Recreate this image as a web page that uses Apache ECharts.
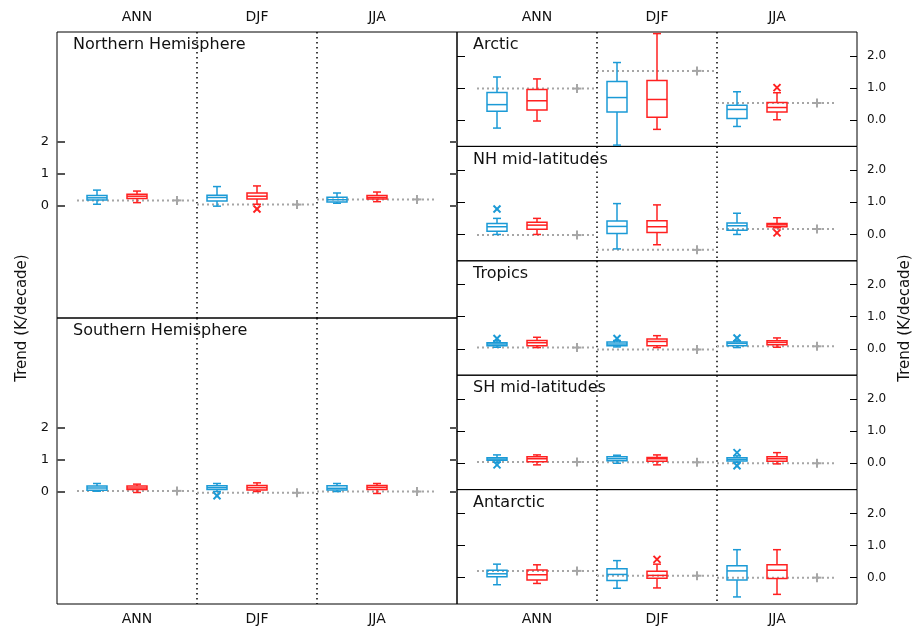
<!DOCTYPE html>
<html><head><meta charset="utf-8">
<script src="https://cdn.jsdelivr.net/npm/echarts@6/dist/echarts.min.js"></script>
<style>html,body{margin:0;padding:0;background:#fff}#c{width:920px;height:627px}</style>
</head><body><div id="c"></div>
<script>
// ---------------- DATA ----------------
const seasons = ['ANN', 'DJF', 'JJA'];
const regionNames = ['Northern Hemisphere', 'Southern Hemisphere', 'Arctic', 'NH mid-latitudes', 'Tropics', 'SH mid-latitudes', 'Antarctic'];
const leftTicks = [0, 1, 2];
const rightTicks = [0, 1, 2];
// box stats per season: [whisker low, Q1, median, Q3, whisker high]
const nhBlue = [[0.05, 0.18, 0.25, 0.32, 0.49], [-0.01, 0.15, 0.26, 0.33, 0.60], [0.08, 0.12, 0.19, 0.27, 0.40]];
const nhRed  = [[0.10, 0.23, 0.30, 0.36, 0.46], [0.05, 0.21, 0.30, 0.40, 0.62], [0.13, 0.21, 0.26, 0.32, 0.43]];
const nhObs  = [0.17, 0.04, 0.20];
const nhOutBlue = [];
const nhOutRed  = [[1, -0.10]];

const shBlue = [[0.02, 0.05, 0.12, 0.18, 0.26], [0.01, 0.07, 0.13, 0.19, 0.26], [0.01, 0.06, 0.11, 0.19, 0.26]];
const shRed  = [[-0.02, 0.07, 0.12, 0.18, 0.24], [0.01, 0.06, 0.13, 0.20, 0.28], [-0.05, 0.07, 0.14, 0.20, 0.26]];
const shObs  = [0.03, -0.03, 0.01];
const shOutBlue = [[1, -0.12]];
const shOutRed  = [];

const arBlue = [[-0.25, 0.27, 0.48, 0.86, 1.34], [-0.78, 0.25, 0.70, 1.20, 1.79], [-0.20, 0.05, 0.33, 0.46, 0.88]];
const arRed  = [[-0.03, 0.31, 0.60, 0.95, 1.28], [-0.29, 0.09, 0.64, 1.23, 2.69], [0.01, 0.25, 0.39, 0.55, 0.85]];
const arObs  = [0.98, 1.53, 0.53];
const arOutBlue = [];
const arOutRed  = [[2, 1.01]];

const nmBlue = [[0.00, 0.10, 0.24, 0.34, 0.50], [-0.45, 0.03, 0.25, 0.42, 0.96], [0.00, 0.13, 0.27, 0.36, 0.66]];
const nmRed  = [[0.00, 0.16, 0.29, 0.38, 0.50], [-0.32, 0.06, 0.24, 0.43, 0.92], [0.21, 0.24, 0.30, 0.34, 0.52]];
const nmObs  = [-0.02, -0.48, 0.17];
const nmOutBlue = [[0, 0.79]];
const nmOutRed  = [[2, 0.05]];

const trBlue = [[0.05, 0.10, 0.15, 0.19, 0.25], [0.06, 0.10, 0.15, 0.21, 0.26], [0.04, 0.10, 0.17, 0.21, 0.25]];
const trRed  = [[0.04, 0.10, 0.19, 0.26, 0.36], [0.04, 0.10, 0.23, 0.31, 0.41], [0.05, 0.13, 0.20, 0.25, 0.34]];
const trObs  = [0.04, -0.02, 0.08];
const trOutBlue = [[0, 0.32], [1, 0.32], [2, 0.34]];
const trOutRed  = [];

const smBlue = [[0.03, 0.09, 0.13, 0.17, 0.26], [0.00, 0.08, 0.14, 0.20, 0.25], [0.03, 0.07, 0.12, 0.17, 0.23]];
const smRed  = [[-0.05, 0.05, 0.14, 0.20, 0.26], [-0.05, 0.06, 0.14, 0.18, 0.26], [-0.02, 0.06, 0.14, 0.20, 0.33]];
const smObs  = [0.04, 0.03, 0.00];
const smOutBlue = [[0, -0.05], [2, 0.33], [2, -0.08]];
const smOutRed  = [];

const anBlue = [[-0.22, 0.03, 0.12, 0.23, 0.42], [-0.33, -0.09, 0.10, 0.28, 0.53], [-0.60, -0.07, 0.21, 0.37, 0.87]];
const anRed  = [[-0.18, -0.07, 0.09, 0.24, 0.40], [-0.32, -0.02, 0.07, 0.20, 0.42], [-0.52, -0.03, 0.23, 0.40, 0.87]];
const anObs  = [0.21, 0.06, 0.00];
const anOutBlue = [];
const anOutRed  = [[1, 0.57]];

// ---------------- LAYOUT ----------------
const BLUE = '#1B9AD6', RED = '#FF2020', GREY = '#A6A6A6';
const FONT = 'DejaVu Sans';
const panels = [
  {blue: nhBlue, red: nhRed, obs: nhObs, ob: nhOutBlue, or: nhOutRed},
  {blue: shBlue, red: shRed, obs: shObs, ob: shOutBlue, or: shOutRed},
  {blue: arBlue, red: arRed, obs: arObs, ob: arOutBlue, or: arOutRed},
  {blue: nmBlue, red: nmRed, obs: nmObs, ob: nmOutBlue, or: nmOutRed},
  {blue: trBlue, red: trRed, obs: trObs, ob: trOutBlue, or: trOutRed},
  {blue: smBlue, red: smRed, obs: smObs, ob: smOutBlue, or: smOutRed},
  {blue: anBlue, red: anRed, obs: anObs, ob: anOutBlue, or: anOutRed}
];
const rh = 114.4;
const gridBoxes = [
  {left: 57, top: 32, width: 400, height: 286},
  {left: 57, top: 318, width: 400, height: 286},
  {left: 457, top: 32, width: 400, height: rh},
  {left: 457, top: 32 + rh, width: 400, height: rh},
  {left: 457, top: 32 + 2 * rh, width: 400, height: rh},
  {left: 457, top: 32 + 3 * rh, width: 400, height: rh},
  {left: 457, top: 32 + 4 * rh, width: 400, height: rh}
];
const center = s => 3 * s + 2;  // group centre on a 0..10 axis

function boxRenderer(color) {
  return function (params, api) {
    const x = api.value(0);
    const p = [1, 2, 3, 4, 5].map(i => api.coord([x, api.value(i)]));
    const cx = p[0][0], hw = 10, cw = 4;
    const st = {stroke: color, fill: 'none', lineWidth: 1.5};
    return {type: 'group', children: [
      {type: 'line', shape: {x1: cx, y1: p[0][1], x2: cx, y2: p[1][1]}, style: st},
      {type: 'line', shape: {x1: cx, y1: p[3][1], x2: cx, y2: p[4][1]}, style: st},
      {type: 'line', shape: {x1: cx - cw, y1: p[0][1], x2: cx + cw, y2: p[0][1]}, style: st},
      {type: 'line', shape: {x1: cx - cw, y1: p[4][1], x2: cx + cw, y2: p[4][1]}, style: st},
      {type: 'rect', shape: {x: cx - hw, y: p[3][1], width: 2 * hw, height: p[1][1] - p[3][1]}, style: st},
      {type: 'line', shape: {x1: cx - hw, y1: p[2][1], x2: cx + hw, y2: p[2][1]}, style: st}
    ]};
  };
}
function crossRenderer(color) {
  return function (params, api) {
    const c = api.coord([api.value(0), api.value(1)]);
    const r = 3.5;
    const st = {stroke: color, lineWidth: 2};
    return {type: 'group', children: [
      {type: 'line', shape: {x1: c[0] - r, y1: c[1] - r, x2: c[0] + r, y2: c[1] + r}, style: st},
      {type: 'line', shape: {x1: c[0] - r, y1: c[1] + r, x2: c[0] + r, y2: c[1] - r}, style: st}
    ]};
  };
}
function obsRenderer(params, api) {
  const s = api.value(0), v = api.value(1);
  const a = api.coord([center(s) - 1.5, v]);
  const b = api.coord([center(s) + 1.5, v]);
  const c = api.coord([center(s) + 1, v]);
  const r = 4.5;
  return {type: 'group', children: [
    {type: 'line', shape: {x1: a[0], y1: a[1], x2: b[0], y2: b[1]}, style: {stroke: GREY, lineWidth: 2, lineDash: [2, 3]}},
    {type: 'line', shape: {x1: c[0] - r, y1: c[1], x2: c[0] + r, y2: c[1]}, style: {stroke: GREY, lineWidth: 2}},
    {type: 'line', shape: {x1: c[0], y1: c[1] - r, x2: c[0], y2: c[1] + r}, style: {stroke: GREY, lineWidth: 2}}
  ]};
}
function dividerRenderer(params, api) {
  const cs = params.coordSys;
  const x = api.coord([api.value(0), 0])[0];
  return {type: 'line', shape: {x1: x, y1: cs.y, x2: x, y2: cs.y + cs.height},
    style: {stroke: '#000', lineWidth: 1.5, lineDash: [1.5, 3.5]}};
}

const grid = [], xAxis = [], yAxis = [], series = [], graphic = [];
const labelMap = {};
seasons.forEach((s, i) => { labelMap[center(i)] = s; });

panels.forEach((pn, i) => {
  const g = gridBoxes[i];
  const isLeft = i < 2;
  grid.push(Object.assign({show: true, borderColor: '#000', borderWidth: 1, backgroundColor: 'transparent', containLabel: false}, g));
  const labelPos = (i === 0 || i === 2) ? 'top' : ((i === 1 || i === 6) ? 'bottom' : null);
  xAxis.push({
    gridIndex: i, type: 'value', min: 0, max: 10, interval: 1,
    position: labelPos || 'bottom',
    axisLine: {show: false}, axisTick: {show: false}, splitLine: {show: false},
    axisLabel: {show: !!labelPos, margin: 8, fontFamily: FONT, fontSize: 14, color: '#111',
      formatter: v => labelMap[v] || ''}
  });
  const ymin = isLeft ? -3.49 : -0.82, ymax = isLeft ? 5.41 : 2.74;
  const ticks = isLeft ? leftTicks : rightTicks;
  const tickStyle = isLeft ? {color: '#555', width: 2} : {color: '#000', width: 1};
  // left y axis
  yAxis.push({
    gridIndex: i, type: 'value', min: ymin, max: ymax, position: 'left',
    axisLine: {show: false}, splitLine: {show: false},
    axisTick: {show: true, inside: true, length: 8, customValues: ticks, lineStyle: tickStyle},
    axisLabel: {show: isLeft, customValues: ticks, margin: 8, fontFamily: FONT, fontSize: 13, color: '#111',
      formatter: v => String(v)}
  });
  // right y axis
  yAxis.push({
    gridIndex: i, type: 'value', min: ymin, max: ymax, position: 'right',
    axisLine: {show: false}, splitLine: {show: false},
    axisTick: {show: true, inside: true, length: 7, customValues: ticks, lineStyle: tickStyle},
    axisLabel: {show: !isLeft, customValues: ticks, margin: 10, fontFamily: FONT, fontSize: 12, color: '#111',
      formatter: v => v.toFixed(1)}
  });
  const xi = i, yi = 2 * i;
  series.push({type: 'custom', xAxisIndex: xi, yAxisIndex: yi, renderItem: dividerRenderer,
    data: [1, 2].map(s => [center(s) - 1.5]), silent: true, z: 1});
  series.push({type: 'custom', xAxisIndex: xi, yAxisIndex: yi, renderItem: obsRenderer,
    data: pn.obs.map((v, s) => [s, v]), silent: true, z: 2});
  series.push({type: 'custom', xAxisIndex: xi, yAxisIndex: yi, renderItem: boxRenderer(BLUE),
    encode: {x: 0, y: [1, 2, 3, 4, 5]},
    data: pn.blue.map((b, s) => [center(s) - 1].concat(b)), silent: true, z: 3});
  series.push({type: 'custom', xAxisIndex: xi, yAxisIndex: yi, renderItem: boxRenderer(RED),
    encode: {x: 0, y: [1, 2, 3, 4, 5]},
    data: pn.red.map((b, s) => [center(s)].concat(b)), silent: true, z: 3});
  series.push({type: 'custom', xAxisIndex: xi, yAxisIndex: yi, renderItem: crossRenderer(BLUE),
    data: pn.ob.map(o => [center(o[0]) - 1, o[1]]), silent: true, z: 4});
  series.push({type: 'custom', xAxisIndex: xi, yAxisIndex: yi, renderItem: crossRenderer(RED),
    data: pn.or.map(o => [center(o[0]), o[1]]), silent: true, z: 4});
  graphic.push({type: 'text', left: g.left + 16, top: g.top + 5, z: 10,
    style: {text: regionNames[i], font: '16px "' + FONT + '"', fill: '#111'}});
});

graphic.push({type: 'text', x: 22, y: 318, rotation: Math.PI / 2, z: 10,
  style: {text: 'Trend (K/decade)', font: '15px "' + FONT + '"', fill: '#111', align: 'center', verticalAlign: 'middle'}});
graphic.push({type: 'text', x: 905, y: 318, rotation: Math.PI / 2, z: 10,
  style: {text: 'Trend (K/decade)', font: '15px "' + FONT + '"', fill: '#111', align: 'center', verticalAlign: 'middle'}});

const chart = echarts.init(document.getElementById('c'), null, {renderer: 'canvas'});
chart.setOption({animation: false, backgroundColor: '#fff', grid, xAxis, yAxis, series, graphic});
</script>
</body></html>
